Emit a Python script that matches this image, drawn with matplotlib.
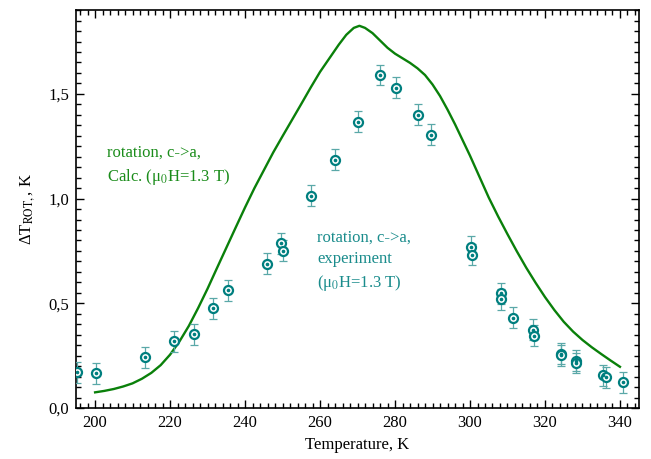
import matplotlib
matplotlib.use("Agg")
import matplotlib.pyplot as plt
from matplotlib.ticker import MultipleLocator, FuncFormatter

# Experiment: rotation c->a, mu0H = 1.3 T
exp_T = [195.2, 200.3, 213.3, 221.1, 226.4, 231.5, 235.5, 245.9, 249.6, 250.1,
         257.6, 264.0, 270.1, 276.0, 280.3, 286.1, 289.6, 300.3, 300.4, 308.3,
         308.4, 311.5, 316.9, 317.0, 324.3, 324.4, 328.3, 328.4, 335.5, 336.3,
         340.7]
exp_dT = [0.171, 0.167, 0.243, 0.319, 0.352, 0.476, 0.562, 0.690, 0.786, 0.752,
          1.014, 1.186, 1.367, 1.590, 1.529, 1.401, 1.306, 0.771, 0.733, 0.549,
          0.520, 0.432, 0.373, 0.346, 0.260, 0.251, 0.225, 0.215, 0.157, 0.148,
          0.124]
exp_err = [0.05] * len(exp_T)

# Calculation
calc_T = [200, 202.5, 205, 207.5, 210, 212.5, 215, 217.5, 220, 222.5, 225,
          227.5, 230, 232.5, 235, 237.5, 240, 242.5, 245, 247.5, 250, 252.5,
          255, 257.5, 260, 262.5, 265, 267, 269, 270.5, 272, 274, 276, 278,
          280, 282, 284, 286, 288, 290, 292, 294, 296, 298, 300, 302.5, 305,
          307.5, 310, 312.5, 315, 317.5, 320, 322.5, 325, 327.5, 330, 332.5,
          335, 337.5, 340]
calc_dT = [0.075, 0.082, 0.091, 0.103, 0.118, 0.140, 0.168, 0.205, 0.255,
           0.318, 0.392, 0.478, 0.570, 0.668, 0.765, 0.862, 0.958, 1.050,
           1.135, 1.220, 1.298, 1.375, 1.452, 1.530, 1.605, 1.670, 1.735,
           1.782, 1.815, 1.825, 1.815, 1.790, 1.755, 1.720, 1.692, 1.670,
           1.648, 1.622, 1.590, 1.545, 1.490, 1.425, 1.355, 1.280, 1.205,
           1.105, 1.005, 0.915, 0.830, 0.748, 0.670, 0.598, 0.530, 0.468,
           0.412, 0.365, 0.325, 0.290, 0.258, 0.227, 0.197]

plt.rcParams["font.family"] = ["Liberation Serif", "DejaVu Serif"]
plt.rcParams["mathtext.fontset"] = "stix"

green = "#0a800a"
teal = "#007f7f"

fig = plt.figure(figsize=(6.51, 4.59), dpi=100)
ax = fig.add_axes([0.1167, 0.111, 0.865, 0.867])

ax.plot(calc_T, calc_dT, color=green, lw=1.7, zorder=2)

ax.errorbar(exp_T, exp_dT, yerr=exp_err, fmt="none", ecolor="#5aa8a8",
            elinewidth=0.9, capsize=3, capthick=0.9, zorder=3)
ax.plot(exp_T, exp_dT, "o", ms=6.5, mfc="white", mec=teal, mew=1.6, zorder=4)
ax.plot(exp_T, exp_dT, "o", ms=1.6, color=teal, zorder=5)

ax.set_xlim(194.9, 345.1)
ax.set_ylim(0, 1.9)

ax.xaxis.set_major_locator(MultipleLocator(20))
ax.xaxis.set_minor_locator(MultipleLocator(2))
ax.yaxis.set_major_locator(MultipleLocator(0.5))
ax.yaxis.set_minor_locator(MultipleLocator(0.05))
ax.yaxis.set_major_formatter(FuncFormatter(lambda v, p: f"{v:.1f}".replace(".", ",")))

ax.tick_params(which="both", direction="in", top=True, right=True,
               labelsize=12, width=1.0)
ax.tick_params(which="major", length=6, pad=5)
ax.tick_params(which="minor", length=3.5)
for s in ax.spines.values():
    s.set_linewidth(1.2)

ax.set_xlabel("Temperature, K", fontsize=12, labelpad=4)
ax.set_ylabel(r"ΔT$_{\mathrm{ROT,}}$, K", fontsize=12, labelpad=8)

# text placed in pixel coordinates (origin bottom-left)
ax.text(107, 459 - 166, "rotation, c->a,\nCalc. (μ$_0$H=1.3 T)",
        transform=None, fontsize=12, color="#1a8c1a", va="center",
        linespacing=1.45)
ax.text(317, 459 - 261, "rotation, c->a,\nexperiment\n(μ$_0$H=1.3 T)",
        transform=None, fontsize=12, color="#1a8c8c", va="center",
        linespacing=1.45)

fig.savefig("out.png", dpi=100)
